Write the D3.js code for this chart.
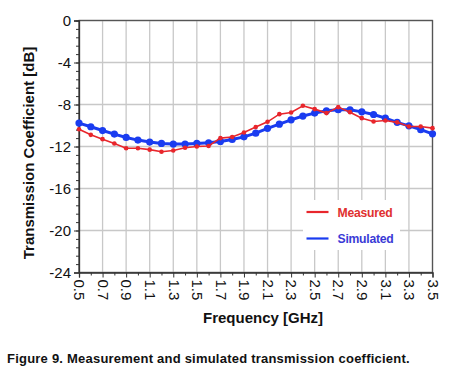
<!DOCTYPE html>
<html>
<head>
<meta charset="utf-8">
<script src="https://cdn.jsdelivr.net/npm/d3@7"></script>
<style>
  body { margin: 0; background: #fff; }
  text { font-family: "Liberation Sans", Arial, sans-serif; }
</style>
</head>
<body>
<div id="container"></div>
<script>
/* DATA */
const freq = d3.range(31).map(i => +(0.5 + i * 0.1).toFixed(1));
const measured = [-10.35, -10.89, -11.3, -11.71, -12.16, -12.16, -12.3, -12.5, -12.38, -12.12,
  -12.0, -11.95, -11.2, -11.1, -10.67, -10.15, -9.65, -8.92, -8.76, -8.12,
  -8.44, -8.82, -8.25, -8.73, -9.3, -9.62, -9.52, -9.7, -10.1, -10.1, -10.25];
const simulated = [-9.77, -10.12, -10.48, -10.82, -11.14, -11.39, -11.58, -11.71, -11.77, -11.77,
  -11.71, -11.65, -11.52, -11.33, -11.08, -10.73, -10.27, -9.87, -9.46, -9.1,
  -8.82, -8.6, -8.5, -8.5, -8.7, -8.95, -9.3, -9.7, -10.03, -10.4, -10.79];
const xTicks = [0.5, 0.7, 0.9, 1.1, 1.3, 1.5, 1.7, 1.9, 2.1, 2.3, 2.5, 2.7, 2.9, 3.1, 3.3, 3.5];
const yTicks = [0, -4, -8, -12, -16, -20, -24];

/* CONSTANTS */
const width = 462, height = 382,
  margin = { left: 79, top: 20.5, right: 29.5, bottom: 109.5 };

const svg = d3.select("#container")
  .append("svg")
  .attr("width", width)
  .attr("height", height);

// SCALES
const xScale = d3.scaleLinear()
  .domain([0.5, 3.5])
  .range([margin.left, width - margin.right]);

const yScale = d3.scaleLinear()
  .domain([-24, 0])
  .range([height - margin.bottom, margin.top]);

// GRID
svg.append("g")
  .selectAll("line.vg")
  .data(xTicks)
  .join("line")
  .attr("x1", d => xScale(d)).attr("x2", d => xScale(d))
  .attr("y1", yScale(0)).attr("y2", yScale(-24))
  .attr("stroke", "#c8c8c8").attr("stroke-width", 1.3);

svg.append("g")
  .selectAll("line.hg")
  .data(yTicks)
  .join("line")
  .attr("x1", xScale(0.5)).attr("x2", xScale(3.5))
  .attr("y1", d => yScale(d)).attr("y2", d => yScale(d))
  .attr("stroke", "#c8c8c8").attr("stroke-width", 1.3);

// LEGEND BACKGROUND (hides grid)
svg.append("rect")
  .attr("x", 303).attr("y", 200).attr("width", 97).attr("height", 50)
  .attr("fill", "#fff");

// FRAME
svg.append("rect")
  .attr("x", xScale(0.5)).attr("y", yScale(0))
  .attr("width", xScale(3.5) - xScale(0.5))
  .attr("height", yScale(-24) - yScale(0))
  .attr("fill", "none").attr("stroke", "#555").attr("stroke-width", 1.3);

// AXES
const yAxis = d3.axisLeft(yScale)
  .tickValues(yTicks)
  .tickSize(5)
  .tickPadding(3)
  .tickFormat(d => String(d));

const yMinor = d3.axisLeft(yScale)
  .tickValues(d3.range(0, 30).map(i => -i * 0.8).filter(v => v >= -24))
  .tickSize(3)
  .tickFormat("");

svg.append("g")
  .attr("transform", `translate(${margin.left},0)`)
  .call(yMinor)
  .call(g => g.select(".domain").remove())
  .call(g => g.selectAll("line").attr("stroke", "#333"));

svg.append("g")
  .attr("transform", `translate(${margin.left},0)`)
  .call(yAxis)
  .call(g => g.select(".domain").attr("stroke", "#333").attr("stroke-width", 1.3))
  .call(g => g.selectAll("line").attr("stroke", "#333"))
  .call(g => g.selectAll("text")
    .attr("font-size", 15)
    .attr("fill", "#111")
    .style("font-family", "'Liberation Sans', Arial, sans-serif"));

const xMinor = d3.axisBottom(xScale)
  .tickValues(d3.range(0.6, 3.5, 0.2))
  .tickSize(3)
  .tickFormat("");

svg.append("g")
  .attr("transform", `translate(0,${height - margin.bottom})`)
  .call(xMinor)
  .call(g => g.select(".domain").remove())
  .call(g => g.selectAll("line").attr("stroke", "#333"));

const xAxis = d3.axisBottom(xScale)
  .tickValues(xTicks)
  .tickSize(5)
  .tickFormat(d3.format(".1f"));

svg.append("g")
  .attr("transform", `translate(0,${height - margin.bottom})`)
  .call(xAxis)
  .call(g => g.select(".domain").attr("stroke", "#333").attr("stroke-width", 1.3))
  .call(g => g.selectAll("line").attr("stroke", "#333"))
  .call(g => g.selectAll("text")
    .attr("font-size", 15)
    .attr("fill", "#111")
    .style("font-family", "'Liberation Sans', Arial, sans-serif")
    .attr("text-anchor", "start")
    .attr("dy", "0.35em")
    .attr("x", 0)
    .attr("y", 0)
    .attr("transform", "translate(0,7) rotate(90)"));

// LINES
const series = [
  { name: "Measured", values: measured, color: "#e8262c", width: 1.6, r: 2.3, text: "#e0302f" },
  { name: "Simulated", values: simulated, color: "#1a3cf0", width: 3, r: 3.6, text: "#3a3ad6" }
];

const lineGen = (vals) => d3.line()
  .x((d, i) => xScale(freq[i]))
  .y(d => yScale(d))(vals);

// draw simulated first, then measured on top
[series[1], series[0]].forEach(s => {
  svg.append("path")
    .attr("d", lineGen(s.values))
    .attr("fill", "none")
    .attr("stroke", s.color)
    .attr("stroke-width", s.width);
  svg.append("g")
    .selectAll("circle")
    .data(s.values)
    .join("circle")
    .attr("cx", (d, i) => xScale(freq[i]))
    .attr("cy", d => yScale(d))
    .attr("r", s.r)
    .attr("fill", s.color);
});

// LEGEND
series.forEach((s, i) => {
  const ly = 212 + i * 26.5;
  svg.append("line")
    .attr("x1", 306.5).attr("x2", 328.5)
    .attr("y1", ly).attr("y2", ly)
    .attr("stroke", s.color).attr("stroke-width", 2.2);
  svg.append("text")
    .attr("x", 337.5).attr("y", 217.3 + i * 25.2)
    .attr("font-size", 12.2)
    .attr("font-weight", "bold")
    .attr("letter-spacing", -0.25)
    .attr("fill", s.text)
    .text(s.name);
});

// AXIS TITLES
svg.append("text")
  .attr("x", 263).attr("y", 323)
  .attr("text-anchor", "middle")
  .attr("font-size", 15)
  .attr("font-weight", "bold")
  .attr("fill", "#111")
  .text("Frequency [GHz]");

svg.append("text")
  .attr("transform", "translate(34,153) rotate(-90)")
  .attr("text-anchor", "middle")
  .attr("font-size", 15)
  .attr("font-weight", "bold")
  .attr("fill", "#111")
  .text("Transmission Coefficient [dB]");

// CAPTION
svg.append("text")
  .attr("x", 7).attr("y", 362.7)
  .attr("font-size", 13)
  .attr("font-weight", "bold")
  .attr("letter-spacing", 0.22)
  .attr("fill", "#111")
  .text("Figure 9. Measurement and simulated transmission coefficient.");
</script>
</body>
</html>
